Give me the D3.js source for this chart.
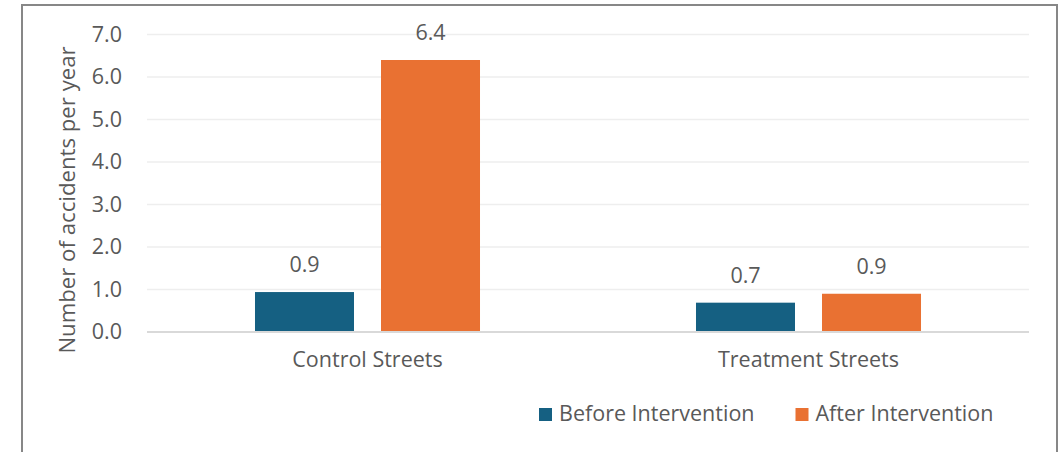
<!DOCTYPE html>
<html>
<head>
<meta charset="utf-8">
<script src="https://cdn.jsdelivr.net/npm/d3@7"></script>
<style>
  html, body { margin: 0; padding: 0; background: #fff; }
  svg { display: block; font-family: "Open Sans", "Noto Sans", sans-serif; }
</style>
</head>
<body>
<svg id="chart" width="1061" height="452"></svg>
<script>
// Accidents per year, before and after the intervention
const categories = ["Control Streets", "Treatment Streets"];
const series = ["Before Intervention", "After Intervention"];
const beforeValues = [0.94, 0.69];
const afterValues = [6.4, 0.9];
const yTicks = [0, 1, 2, 3, 4, 5, 6, 7];
const yTitle = "Number of accidents per year";

const colors = { "Before Intervention": "#156082", "After Intervention": "#E97132" };
const textColor = "#595959";
const fontSize = 21.5;

const rows = categories.map((c, i) => ({
  category: c,
  values: [
    { key: series[0], value: beforeValues[i] },
    { key: series[1], value: afterValues[i] }
  ]
}));

const svg = d3.select("#chart");

// chart frame
svg.append("rect")
  .attr("x", 22).attr("y", 5)
  .attr("width", 1035).attr("height", 460)
  .attr("fill", "#fff")
  .attr("stroke", "#878787")
  .attr("stroke-width", 2);

const plot = { left: 147, right: 1029, top: 34.5, bottom: 332 };

const y = d3.scaleLinear().domain([0, 7]).range([plot.bottom, plot.top]);
const x0 = d3.scaleBand().domain(categories).range([plot.left, plot.right]);
const x1 = d3.scaleBand().domain(series).range([0, x0.bandwidth()])
  .paddingInner(0.2143).paddingOuter(0.857);

// gridlines
svg.append("g")
  .selectAll("line")
  .data(yTicks.filter(t => t > 0))
  .join("line")
  .attr("x1", plot.left).attr("x2", plot.right)
  .attr("y1", d => y(d)).attr("y2", d => y(d))
  .attr("stroke", "#EEEEEE")
  .attr("stroke-width", 1.5);

// y axis tick labels
const yAxis = d3.axisLeft(y).tickValues(yTicks).tickFormat(d3.format(".1f")).tickSize(0).tickPadding(0);
const yAxisG = svg.append("g")
  .attr("transform", `translate(122,0)`)
  .call(yAxis);
yAxisG.select(".domain").remove();
yAxisG.selectAll("text")
  .attr("fill", textColor)
  .attr("font-size", fontSize)
  .attr("font-family", "Open Sans, sans-serif");

// y axis title
svg.append("text")
  .attr("transform", `translate(75,200) rotate(-90)`)
  .attr("text-anchor", "middle")
  .attr("fill", textColor)
  .attr("font-size", 22.2)
  .text(yTitle);

// bars
const groups = svg.append("g")
  .selectAll("g")
  .data(rows)
  .join("g")
  .attr("transform", d => `translate(${x0(d.category)},0)`);

groups.selectAll("rect")
  .data(d => d.values)
  .join("rect")
  .attr("x", d => x1(d.key))
  .attr("y", d => y(d.value))
  .attr("width", x1.bandwidth())
  .attr("height", d => y(0) - y(d.value))
  .attr("fill", d => colors[d.key]);

// value labels
groups.selectAll("text")
  .data(d => d.values)
  .join("text")
  .attr("x", d => x1(d.key) + x1.bandwidth() / 2)
  .attr("y", d => y(d.value) - 20)
  .attr("text-anchor", "middle")
  .attr("fill", textColor)
  .attr("font-size", fontSize)
  .text(d => d3.format(".1f")(d.value));

// baseline
svg.append("line")
  .attr("x1", plot.left).attr("x2", plot.right)
  .attr("y1", y(0)).attr("y2", y(0))
  .attr("stroke", "#D9D9D9")
  .attr("stroke-width", 2);

// category labels
const xAxis = d3.axisBottom(x0).tickSize(0).tickPadding(0);
const xAxisG = svg.append("g")
  .attr("transform", `translate(0,${plot.bottom + 35})`)
  .call(xAxis);
xAxisG.select(".domain").remove();
xAxisG.selectAll("text")
  .attr("dy", 0)
  .attr("fill", textColor)
  .attr("font-size", fontSize)
  .attr("font-family", "Open Sans, sans-serif");

// legend
const legend = svg.append("g").attr("transform", "translate(539,408)");
let lx = 0;
series.forEach(s => {
  const item = legend.append("g").attr("transform", `translate(${lx},0)`);
  item.append("rect").attr("width", 13).attr("height", 13).attr("fill", colors[s]);
  const t = item.append("text")
    .attr("x", 20).attr("y", 13)
    .attr("fill", textColor)
    .attr("font-size", fontSize)
    .text(s);
  lx += 20 + t.node().getComputedTextLength() + 41;
});
</script>
</body>
</html>
